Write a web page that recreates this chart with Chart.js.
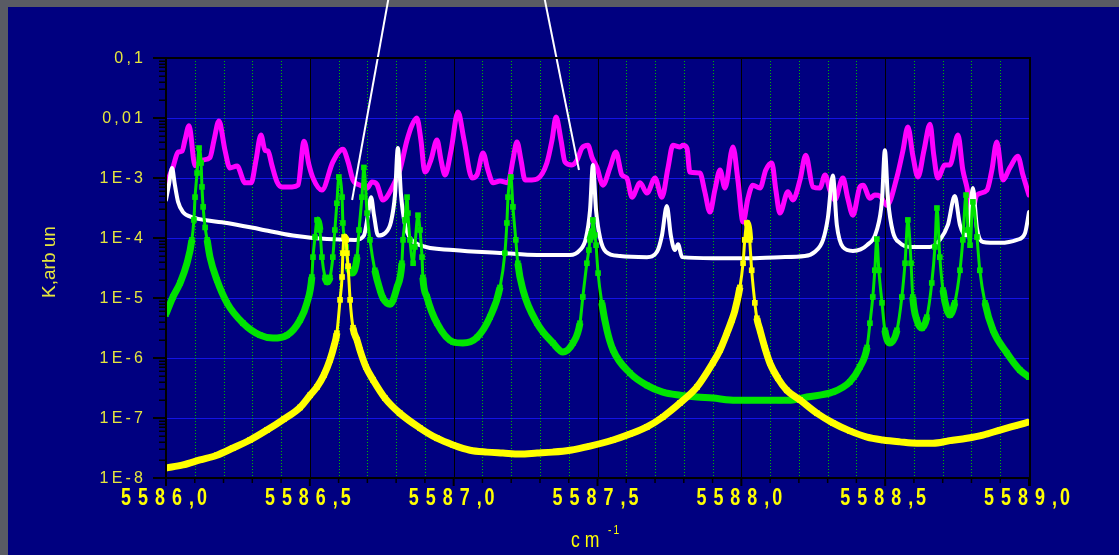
<!DOCTYPE html>
<html>
<head>
<meta charset="utf-8">
<title>K spectrum 5586–5589 cm-1</title>
<script src="https://cdn.jsdelivr.net/npm/chart.js@4.4.1/dist/chart.umd.min.js"></script>
<style>
  html, body { margin: 0; padding: 0; background: #595b64; overflow: hidden; }
  #wrap { width: 1119px; height: 555px; }
  canvas { display: block; }
</style>
</head>
<body>
<div id="wrap"><canvas id="chart" width="1119" height="555"></canvas></div>
<script>
// ---- axis ticks -------------------------------------------------------
const xTickValues = [5586.0, 5586.5, 5587.0, 5587.5, 5588.0, 5588.5, 5589.0];
const xTickLabels = ['5586,0', '5586,5', '5587,0', '5587,5', '5588,0', '5588,5', '5589,0'];
const yTickValues = [0.1, 0.01, 1e-3, 1e-4, 1e-5, 1e-6, 1e-7, 1e-8];
const yTickLabels = ['0,1', '0,01', '1E-3', '1E-4', '1E-5', '1E-6', '1E-7', '1E-8'];

// ---- magenta spectrum -------------------------------------------------
const magentaCm = [5586.000,5586.024,5586.042,5586.056,5586.066,5586.080,5586.101,5586.129,5586.153,5586.167,
  5586.184,5586.205,5586.222,5586.247,5586.275,5586.296,5586.313,5586.330,5586.344,5586.355,
  5586.368,5586.386,5586.403,5586.438,5586.459,5586.480,5586.497,5586.511,5586.542,5586.580,
  5586.615,5586.633,5586.650,5586.674,5586.699,5586.716,5586.733,5586.754,5586.789,5586.813,
  5586.838,5586.855,5586.872,5586.886,5586.900,5586.921,5586.942,5586.956,5586.970,5586.991,
  5587.015,5587.036,5587.064,5587.081,5587.102,5587.119,5587.137,5587.161,5587.189,5587.206,
  5587.220,5587.234,5587.248,5587.272,5587.290,5587.324,5587.342,5587.356,5587.373,5587.387,
  5587.411,5587.429,5587.446,5587.467,5587.481,5587.498,5587.519,5587.543,5587.564,5587.585,
  5587.602,5587.620,5587.648,5587.672,5587.700,5587.724,5587.745,5587.762,5587.787,5587.797,
  5587.811,5587.821,5587.856,5587.873,5587.891,5587.908,5587.926,5587.943,5587.971,5587.988,
  5588.006,5588.023,5588.040,5588.065,5588.085,5588.106,5588.120,5588.134,5588.162,5588.179,
  5588.204,5588.224,5588.249,5588.273,5588.291,5588.308,5588.325,5588.353,5588.370,5588.388,
  5588.412,5588.423,5588.447,5588.464,5588.482,5588.506,5588.541,5588.562,5588.579,5588.596,
  5588.614,5588.635,5588.656,5588.669,5588.683,5588.708,5588.725,5588.753,5588.770,5588.784,
  5588.801,5588.819,5588.854,5588.871,5588.888,5588.909,5588.934,5588.961,5588.979,5589.000];
const magentaK = [7.9e-4,1.5e-3,2.7e-3,2.8e-3,4.3e-3,7.4e-3,1.6e-3,2.0e-3,2.2e-3,4.3e-3,
  8.9e-3,2.9e-3,1.47e-3,1.58e-3,8.3e-4,8.3e-4,2.0e-3,5.2e-3,2.9e-3,2.8e-3,
  1.65e-3,8.6e-4,7.1e-4,7.1e-4,7.6e-4,4.1e-3,1.65e-3,1.0e-3,6.3e-4,1.85e-3,
  3.0e-3,1.85e-3,9.3e-4,7.6e-4,6.8e-4,8.6e-4,7.9e-4,4.3e-4,7.4e-4,1.36e-3,
  4.3e-3,7.6e-3,1.0e-2,4.3e-3,1.26e-3,2.0e-3,4.3e-3,2.0e-3,1.12e-3,2.9e-3,
  1.26e-2,4.3e-3,1.0e-3,1.12e-3,2.6e-3,1.36e-3,8.3e-4,8.9e-4,8.3e-4,2.0e-3,
  4.0e-3,2.0e-3,9.3e-4,9.3e-4,9.6e-4,1.78e-3,4.3e-3,1.04e-2,4.3e-3,1.85e-3,
  1.65e-3,2.0e-3,3.16e-3,3.5e-3,2.2e-3,1.5e-3,7.6e-4,1.47e-3,2.7e-3,1.12e-3,
  1.0e-3,4.8e-4,8.3e-4,5.6e-4,1.0e-3,4.8e-4,1.47e-3,3.5e-3,3.3e-3,3.5e-3,
  3.16e-3,1.26e-3,1.21e-3,5.9e-4,2.7e-4,6.3e-4,1.36e-3,6.8e-4,3.3e-3,9.3e-4,
  1.85e-4,4.6e-4,7.6e-4,6.8e-4,1.36e-3,1.78e-3,6.3e-4,2.6e-4,5.9e-4,4.3e-4,
  9.3e-4,2.4e-3,7.1e-4,6.8e-4,1.12e-3,6.3e-4,4.3e-4,1.0e-3,4.6e-4,2.4e-4,
  7.1e-4,7.6e-4,4.6e-4,5.2e-4,5.0e-4,3.5e-4,1.04e-3,2.9e-3,7.1e-3,2.4e-3,
  1.04e-3,2.9e-3,7.9e-3,2.4e-3,1.0e-3,1.65e-3,1.65e-3,5.2e-3,1.36e-3,7.1e-4,
  2.7e-4,5.2e-4,6.3e-4,1.36e-3,4.0e-3,9.3e-4,1.5e-3,2.3e-3,1.12e-3,5.2e-4];

// ---- white spectrum ---------------------------------------------------
const whiteCm = [5586.000,5586.010,5586.021,5586.031,5586.042,5586.059,5586.094,5586.212,5586.327,5586.441,
  5586.560,5586.657,5586.688,5586.702,5586.713,5586.723,5586.737,5586.761,5586.782,5586.796,
  5586.806,5586.817,5586.831,5586.848,5586.883,5586.998,5587.171,5587.290,5587.404,5587.439,
  5587.460,5587.474,5587.484,5587.495,5587.509,5587.529,5587.578,5587.672,5587.707,5587.724,
  5587.741,5587.755,5587.769,5587.780,5587.794,5587.901,5588.019,5588.134,5588.221,5588.256,
  5588.284,5588.301,5588.318,5588.332,5588.353,5588.388,5588.437,5588.471,5588.489,5588.499,
  5588.510,5588.527,5588.551,5588.586,5588.656,5588.690,5588.718,5588.742,5588.760,5588.781,
  5588.791,5588.805,5588.819,5588.840,5588.899,5588.958,5588.986,5589.000];
const whiteK = [4.3e-4,7.6e-4,1.47e-3,7.6e-4,4.0e-4,2.7e-4,2.2e-4,1.78e-4,1.4e-4,1.1e-4,
  9.6e-5,9.3e-5,1.1e-4,2.4e-4,4.8e-4,2.4e-4,1.1e-4,1.2e-4,1.85e-4,5.2e-4,
  3.16e-3,5.2e-4,1.65e-4,1.0e-4,7.6e-5,6.3e-5,5.6e-5,5.2e-5,5.2e-5,6.3e-5,
  1.0e-4,2.9e-4,1.65e-3,2.9e-4,1.0e-4,5.9e-5,5.0e-5,4.8e-5,5.9e-5,1.1e-4,
  3.4e-4,1.1e-4,6.3e-5,7.9e-5,4.8e-5,4.6e-5,4.6e-5,4.8e-5,5.0e-5,5.9e-5,
  9.3e-5,2.2e-4,1.1e-3,1.65e-4,7.1e-5,6.1e-5,7.6e-5,1.36e-4,4.3e-4,2.9e-3,
  4.3e-4,1.26e-4,8.3e-5,7.1e-5,7.1e-5,9.3e-5,1.65e-4,5.0e-4,1.65e-4,1.1e-4,
  1.65e-4,6.8e-4,1.47e-4,8.6e-5,8.3e-5,9.3e-5,1.2e-4,2.7e-4];

// ---- green line profile -----------------------------------------------
const greenCm = [5586.000,5586.024,5586.049,5586.073,5586.090,5586.097,5586.101,5586.108,5586.115,5586.122,
  5586.125,5586.129,5586.136,5586.143,5586.153,5586.177,5586.212,5586.268,5586.327,5586.372,
  5586.421,5586.466,5586.490,5586.507,5586.511,5586.518,5586.525,5586.535,5586.542,5586.553,
  5586.560,5586.570,5586.580,5586.587,5586.594,5586.601,5586.612,5586.615,5586.626,5586.633,
  5586.646,5586.664,5586.671,5586.681,5586.688,5586.699,5586.709,5586.726,5586.744,5586.754,
  5586.779,5586.803,5586.820,5586.824,5586.831,5586.838,5586.841,5586.848,5586.859,5586.865,
  5586.876,5586.883,5586.890,5586.893,5586.907,5586.942,5586.998,5587.032,5587.081,5587.126,
  5587.161,5587.178,5587.185,5587.189,5587.199,5587.206,5587.216,5587.223,5587.241,5587.290,
  5587.345,5587.380,5587.415,5587.439,5587.449,5587.463,5587.470,5587.474,5587.481,5587.484,
  5587.491,5587.495,5587.502,5587.515,5587.533,5587.554,5587.613,5587.672,5587.727,5587.787,
  5587.846,5587.901,5587.960,5588.019,5588.134,5588.179,5588.228,5588.318,5588.377,5588.412,
  5588.437,5588.447,5588.457,5588.464,5588.471,5588.478,5588.489,5588.499,5588.516,5588.541,
  5588.558,5588.569,5588.579,5588.590,5588.596,5588.610,5588.628,5588.645,5588.662,5588.673,
  5588.680,5588.690,5588.701,5588.715,5588.725,5588.742,5588.760,5588.770,5588.781,5588.788,
  5588.795,5588.805,5588.819,5588.829,5588.847,5588.875,5588.923,5588.968,5589.000];
const greenK = [5.4e-6,1.04e-5,1.78e-5,3.8e-5,9.3e-5,2.0e-4,4.8e-4,1.21e-3,3.16e-3,1.78e-3,
  7.1e-4,3.3e-4,1.5e-4,9.3e-5,4.8e-5,2.0e-5,8.3e-6,3.8e-6,2.4e-6,2.15e-6,
  2.4e-6,4.3e-6,8.3e-6,2.24e-5,4.8e-5,1.04e-4,2.0e-4,1.36e-4,4.8e-5,2.2e-5,
  1.85e-5,2.2e-5,4.8e-5,1.36e-4,3.8e-4,1.04e-3,4.8e-4,1.78e-4,7.1e-5,3.3e-5,
  2.6e-5,4.8e-5,1.36e-4,4.8e-4,1.5e-3,2.6e-4,9.3e-5,2.9e-5,1.36e-5,1.0e-5,
  7.9e-6,1.5e-5,3.8e-5,9.3e-5,2.0e-4,4.8e-4,2.6e-4,9.3e-5,3.8e-5,7.1e-5,
  2.4e-4,1.36e-4,4.8e-5,2.2e-5,1.04e-5,3.8e-6,1.85e-6,1.78e-6,2.2e-6,4.8e-6,
  1.5e-5,5.6e-5,1.78e-4,4.8e-4,1.04e-3,3.3e-4,9.3e-5,3.8e-5,1.36e-5,3.8e-6,
  1.78e-6,1.26e-6,1.78e-6,3.8e-6,1.04e-5,3.8e-5,6.3e-5,9.3e-5,1.3e-4,2.0e-4,
  1.12e-4,7.6e-5,2.6e-5,8.3e-6,2.9e-6,1.36e-6,5.6e-7,3.5e-7,2.7e-7,2.4e-7,
  2.24e-7,2.15e-7,2.0e-7,1.97e-7,1.97e-7,2.0e-7,2.24e-7,2.7e-7,4.0e-7,7.1e-7,
  1.5e-6,3.8e-6,1.04e-5,2.9e-5,9.6e-5,2.9e-5,8.3e-6,2.9e-6,1.78e-6,2.9e-6,
  1.04e-5,3.8e-5,2.0e-4,3.8e-5,1.04e-5,4.3e-6,3.16e-6,4.8e-6,1.78e-5,7.1e-5,
  3.16e-4,4.8e-5,1.36e-5,6.3e-6,5.2e-6,8.3e-6,2.9e-5,9.3e-5,5.2e-4,1.36e-4,
  7.6e-5,4.0e-4,1.04e-4,2.9e-5,8.3e-6,2.9e-6,1.21e-6,6.3e-7,4.8e-7];

// ---- yellow line profile ----------------------------------------------
const yellowCm = [5586.000,5586.059,5586.118,5586.177,5586.233,5586.292,5586.351,5586.410,5586.466,5586.501,
  5586.525,5586.549,5586.570,5586.584,5586.594,5586.605,5586.612,5586.615,5586.619,5586.626,
  5586.629,5586.633,5586.640,5586.650,5586.664,5586.674,5586.695,5586.720,5586.761,5586.813,
  5586.883,5586.942,5586.998,5587.057,5587.116,5587.171,5587.230,5587.290,5587.345,5587.404,
  5587.474,5587.554,5587.613,5587.672,5587.727,5587.787,5587.846,5587.901,5587.926,5587.950,
  5587.967,5587.978,5587.995,5588.006,5588.012,5588.019,5588.026,5588.029,5588.036,5588.047,
  5588.054,5588.065,5588.082,5588.099,5588.127,5588.158,5588.204,5588.263,5588.318,5588.377,
  5588.437,5588.492,5588.551,5588.610,5588.666,5588.725,5588.784,5588.840,5588.899,5588.951,
  5589.000];
const yellowK = [1.47e-8,1.65e-8,2.0e-8,2.4e-8,3.16e-8,4.3e-8,6.3e-8,9.6e-8,1.5e-7,2.4e-7,
  3.3e-7,5.2e-7,9.3e-7,1.58e-6,2.6e-6,9.3e-6,2.24e-5,5.6e-5,1.04e-4,9.3e-5,
  5.6e-5,3.4e-5,9.3e-6,3.2e-6,2.0e-6,1.36e-6,7.1e-7,4.3e-7,2.15e-7,1.2e-7,
  6.8e-8,4.6e-8,3.55e-8,2.9e-8,2.7e-8,2.6e-8,2.5e-8,2.6e-8,2.7e-8,2.9e-8,
  3.4e-8,4.3e-8,5.4e-8,7.1e-8,1.04e-7,1.78e-7,3.3e-7,8.3e-7,1.36e-6,2.6e-6,
  4.3e-6,6.3e-6,1.5e-5,3.8e-5,9.3e-5,1.78e-4,1.36e-4,9.3e-5,2.9e-5,8.3e-6,
  4.6e-6,2.9e-6,1.47e-6,8.3e-7,4.6e-7,2.9e-7,2.0e-7,1.2e-7,8.3e-8,6.1e-8,
  4.8e-8,4.3e-8,4.0e-8,3.8e-8,3.8e-8,4.2e-8,4.6e-8,5.2e-8,6.3e-8,7.4e-8,
  8.6e-8];

// ---- pointer lines (run off the top of the frame) ----------------------
const pointerLeftCm = [5586.785, 5586.647];
const pointerLeftK = [2, 4.3e-4];
const pointerRightCm = [5587.303, 5587.4355];
const pointerRightK = [2, 1.36e-3];

// ---- colours ----------------------------------------------------------
const NAVY = '#000080';
const FRAME_GREY = '#595b64';
const LABEL_YELLOW = '#e6e63c';
const TICK_YELLOW = '#ffff00';

const pts = (xs, ks) => xs.map((x, i) => ({ x, y: ks[i] }));

// Marker series: thick where the curve is flat (markers overlap),
// a narrower chain on the steepest flanks where single markers show.
const markerSegment = {
  borderWidth: ctx => {
    const dx = Math.abs(ctx.p1.x - ctx.p0.x);
    const dy = Math.abs(ctx.p1.y - ctx.p0.y);
    return (dy > 6 * dx && dy > 10) ? 3 : 7;
  }
};

function markerSeries(xs, ks, color, order) {
  return {
    data: pts(xs, ks),
    borderColor: color,
    backgroundColor: color,
    borderWidth: 7,
    pointStyle: 'rect',
    pointRadius: 4,
    pointBorderWidth: 0,
    pointBackgroundColor: color,
    cubicInterpolationMode: 'monotone',
    tension: 0.4,
    segment: markerSegment,
    order
  };
}

function lineSeries(xs, ks, color, width, order) {
  return {
    data: pts(xs, ks),
    borderColor: color,
    borderWidth: width,
    pointRadius: 0,
    cubicInterpolationMode: 'monotone',
    tension: 0.4,
    borderJoinStyle: 'round',
    borderCapStyle: 'round',
    order
  };
}

function pointerSeries(xs, ks) {
  return {
    data: pts(xs, ks),
    borderColor: '#ffffff',
    borderWidth: 2,
    pointRadius: 0,
    tension: 0,
    clip: false,
    order: 0
  };
}

// Draws text one glyph at a time with extra spacing and optional horizontal squeeze.
function drawSpaced(ctx, text, x, y, spacing, scaleX, align, commaGap) {
  const chars = [...text];
  const adv = chars.map(ch => ctx.measureText(ch).width * scaleX);
  const gaps = chars.map((ch, i) => i === chars.length - 1 ? 0 :
    (ch === ',' && commaGap !== undefined ? commaGap : spacing));
  const total = adv.reduce((a, b) => a + b, 0) + gaps.reduce((a, b) => a + b, 0);
  let cx = align === 'center' ? x - total / 2 : align === 'right' ? x - total : x;
  ctx.textAlign = 'left';
  chars.forEach((ch, i) => {
    ctx.save();
    ctx.translate(cx, y);
    ctx.scale(scaleX, 1);
    ctx.fillText(ch, 0, 0);
    ctx.restore();
    cx += adv[i] + gaps[i];
  });
}

const framePlugin = {
  id: 'frame',
  beforeDraw(chart) {
    const { ctx, width, height } = chart;
    ctx.save();
    ctx.fillStyle = FRAME_GREY;
    ctx.fillRect(0, 0, width, height);
    ctx.fillStyle = NAVY;
    ctx.fillRect(8, 7, width - 8, height - 7);
    ctx.restore();
  },
  beforeDatasetsDraw(chart) {
    const { ctx, chartArea: a, scales: { x, y } } = chart;
    ctx.save();
    // decade lines
    ctx.strokeStyle = '#1414e6';
    ctx.lineWidth = 1;
    for (let e = -7; e <= -2; e++) {
      const py = Math.round(y.getPixelForValue(Math.pow(10, e))) + 0.5;
      ctx.beginPath(); ctx.moveTo(a.left, py); ctx.lineTo(a.right, py); ctx.stroke();
    }
    // 0.1 cm-1 dotted lines and 0.5 cm-1 solid lines
    for (let k = 1; k < 30; k++) {
      const px = Math.round(x.getPixelForValue(5586 + k * 0.1)) + 0.5;
      ctx.beginPath();
      if (k % 5 === 0) {
        ctx.setLineDash([]);
        ctx.strokeStyle = '#000000';
      } else {
        ctx.setLineDash([1, 2]);
        ctx.strokeStyle = '#00b800';
      }
      ctx.moveTo(px, a.top); ctx.lineTo(px, a.bottom); ctx.stroke();
    }
    ctx.restore();
  },
  afterDatasetsDraw(chart) {
    const { ctx, chartArea: a, scales: { x, y } } = chart;
    ctx.save();
    ctx.setLineDash([]);
    ctx.strokeStyle = '#000000';

    // frame
    ctx.lineWidth = 2;
    ctx.beginPath();
    ctx.moveTo(a.left - 13, a.top); ctx.lineTo(a.right + 1, a.top);
    ctx.moveTo(a.left - 13, a.bottom); ctx.lineTo(a.right + 1, a.bottom);
    ctx.moveTo(a.left, a.top); ctx.lineTo(a.left, a.bottom + 8);
    ctx.moveTo(a.right + 1, a.top - 1); ctx.lineTo(a.right + 1, a.bottom + 8);
    ctx.stroke();

    // y ticks (log scale)
    yTickValues.forEach(v => {
      const py = y.getPixelForValue(v);
      ctx.lineWidth = 2;
      ctx.beginPath(); ctx.moveTo(a.left - 13, py); ctx.lineTo(a.left, py); ctx.stroke();
    });
    ctx.lineWidth = 1.5;
    for (let e = -8; e < -1; e++) {
      for (let m = 2; m <= 9; m++) {
        const py = Math.round(y.getPixelForValue(m * Math.pow(10, e))) + 0.25;
        ctx.beginPath(); ctx.moveTo(a.left - 7, py); ctx.lineTo(a.left, py); ctx.stroke();
      }
    }

    // x ticks
    for (let k = 0; k <= 30; k++) {
      const px = x.getPixelForValue(5586 + k * 0.1);
      const major = k % 5 === 0;
      ctx.lineWidth = major ? 2 : 1.5;
      ctx.beginPath(); ctx.moveTo(px, a.bottom); ctx.lineTo(px, a.bottom + (major ? 8 : 5)); ctx.stroke();
    }

    // y tick labels
    ctx.fillStyle = LABEL_YELLOW;
    ctx.font = '16px "Liberation Sans", Arial, sans-serif';
    ctx.textBaseline = 'middle';
    yTickValues.forEach((v, i) => {
      drawSpaced(ctx, yTickLabels[i], 143, y.getPixelForValue(v) + 0.5, 3.2, 1, 'right');
    });

    // x tick labels
    ctx.fillStyle = TICK_YELLOW;
    ctx.font = 'bold 23px "Liberation Sans", Arial, sans-serif';
    ctx.textBaseline = 'middle';
    xTickValues.forEach((v, i) => {
      drawSpaced(ctx, xTickLabels[i], x.getPixelForValue(v) - 2, 499, 7, 0.78, 'center', 3);
    });

    // axis titles
    ctx.fillStyle = LABEL_YELLOW;
    ctx.font = '19px "Liberation Sans", Arial, sans-serif';
    ctx.textBaseline = 'middle';
    ctx.save();
    ctx.translate(50, 262);
    ctx.rotate(-Math.PI / 2);
    ctx.textAlign = 'center';
    ctx.fillText('K,arb un', 0, 0);
    ctx.restore();

    ctx.fillStyle = TICK_YELLOW;
    ctx.textBaseline = 'alphabetic';
    ctx.font = '22px "Liberation Sans", Arial, sans-serif';
    drawSpaced(ctx, 'cm', 571, 547, 5, 0.8, 'left');
    ctx.font = '12px "Liberation Sans", Arial, sans-serif';
    drawSpaced(ctx, '-1', 608, 534, 2, 0.85, 'left');

    ctx.restore();
  }
};

new Chart(document.getElementById('chart'), {
  type: 'line',
  data: {
    datasets: [
      pointerSeries(pointerLeftCm, pointerLeftK),
      pointerSeries(pointerRightCm, pointerRightK),
      markerSeries(yellowCm, yellowK, '#ffff00', 1),
      markerSeries(greenCm, greenK, '#00e400', 2),
      lineSeries(whiteCm, whiteK, '#ffffff', 4, 3),
      lineSeries(magentaCm, magentaK, '#ff00ff', 5, 4)
    ]
  },
  options: {
    responsive: false,
    animation: false,
    devicePixelRatio: 1,
    events: [],
    layout: { padding: { left: 166, top: 58, right: 90, bottom: 77 } },
    scales: {
      x: { type: 'linear', min: 5586, max: 5589, display: false },
      y: { type: 'logarithmic', min: 1e-8, max: 0.1, display: false }
    },
    plugins: {
      legend: { display: false },
      tooltip: { enabled: false }
    }
  },
  plugins: [framePlugin]
});
</script>
</body>
</html>
